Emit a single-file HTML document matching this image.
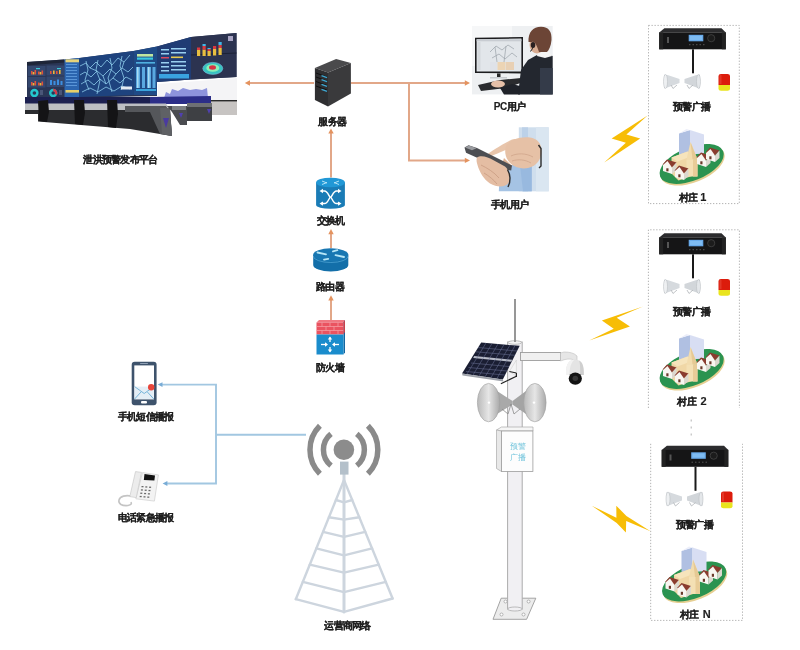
<!DOCTYPE html>
<html><head><meta charset="utf-8"><title>diagram</title>
<style>
html,body{margin:0;padding:0;background:#fff;width:800px;height:650px;overflow:hidden}
svg{display:block;filter:blur(0.4px)}
text{font-family:"Liberation Sans",sans-serif;font-weight:bold;fill:#1e1e1e;stroke:#1e1e1e;stroke-width:0.15px}
</style></head><body>
<svg width="800" height="650" viewBox="0 0 800 650">
<defs>
  <linearGradient id="bellg" x1="0" y1="0" x2="1" y2="0">
    <stop offset="0" stop-color="#b9b9b9"/><stop offset="0.5" stop-color="#e6e6e6"/><stop offset="1" stop-color="#a9a9a9"/>
  </linearGradient>
  <linearGradient id="hornL" x1="0" y1="0" x2="1" y2="0">
    <stop offset="0" stop-color="#e8ebee"/><stop offset="1" stop-color="#b8bec4"/>
  </linearGradient>
</defs>
<rect width="800" height="650" fill="#fff"/>

<!-- CONTROL ROOM -->
<g id="control">
  <!-- screen wall -->
  <polygon points="27,62 64,59.5 80,58 133.5,51 157,46.5 191,37 236.5,33 236.5,77 191,79.5 157,82 157,96 110,97 27,98" fill="#2a3656"/>
  <!-- left panels -->
  <g>
    <polygon points="27,62 64,59.5 64,62.5 27,65.5" fill="#1e2538"/>
    <rect x="28" y="66" width="17.5" height="10" fill="#34476e"/>
    <rect x="46.5" y="65.5" width="17.5" height="10" fill="#34476e"/>
    <rect x="28" y="77" width="17.5" height="10.5" fill="#34476e"/>
    <rect x="46.5" y="76.5" width="17.5" height="10.5" fill="#34486f"/>
    <g fill="#e0503c"><rect x="31" y="71" width="1.6" height="3.5"/><rect x="34.5" y="70" width="1.6" height="4.5"/><rect x="38" y="71.5" width="1.6" height="3"/><rect x="41.5" y="70.5" width="1.6" height="4"/>
      <rect x="31" y="82" width="1.6" height="3.5"/><rect x="34.5" y="81" width="1.6" height="4.5"/><rect x="38" y="82.5" width="1.6" height="3"/><rect x="41.5" y="81.5" width="1.6" height="4"/>
      <rect x="50" y="71" width="1.6" height="3"/><rect x="56" y="71" width="1.6" height="3"/></g>
    <g fill="#e8b838"><rect x="32.7" y="72" width="1.6" height="2.5"/><rect x="39.7" y="72" width="1.6" height="2.5"/><rect x="32.7" y="83" width="1.6" height="2.5"/><rect x="39.7" y="83" width="1.6" height="2.5"/><rect x="53" y="70.5" width="1.6" height="3.5"/><rect x="59" y="70" width="1.6" height="4"/></g>
    <g fill="#3c8ee0"><rect x="50" y="80" width="2" height="5"/><rect x="53.5" y="81" width="2" height="4"/><rect x="57" y="79.5" width="2" height="5.5"/><rect x="60.5" y="81" width="2" height="4"/></g>
    <g fill="#3cc8d8"><rect x="36" y="68" width="4" height="1.2"/><rect x="57" y="68" width="4" height="1.2"/></g>
    <circle cx="34.4" cy="93" r="3" fill="none" stroke="#24c8d0" stroke-width="2.4"/>
    <circle cx="53.2" cy="93" r="3" fill="none" stroke="#24c0c8" stroke-width="2.4"/>
    <path d="M53.2,90 A3,3 0 0 1 55.8,94.5" fill="none" stroke="#d63848" stroke-width="2.4"/>
    <rect x="40" y="90" width="3" height="5" fill="#4a5678"/><rect x="59" y="90" width="3" height="5" fill="#4a5678"/>
  </g>
  <!-- blue column -->
  <polygon points="64.5,59.5 79,58 79,97 64.5,97.5" fill="#2c66b0"/>
  <g fill="#5a96d8"><rect x="66" y="64" width="11" height="1"/><rect x="66" y="67" width="11" height="1"/><rect x="66" y="70" width="11" height="1"/><rect x="66" y="73" width="11" height="1"/><rect x="66" y="76" width="11" height="1"/><rect x="66" y="79" width="11" height="1"/><rect x="66" y="82" width="11" height="1"/><rect x="66" y="85" width="11" height="1"/></g>
  <rect x="65.5" y="59.3" width="14" height="3" fill="#e6d27a"/>
  <rect x="65.5" y="90" width="14" height="2.6" fill="#e6cf6a"/>
  <!-- map -->
  <polygon points="79,58 133.5,51 133.5,95 79,97" fill="#1e437e"/>
  <g stroke="#9adcf8" stroke-width="0.8" fill="none" opacity="0.9">
    <path d="M80,66 L86,63 L90,68 L96,62 L101,67 L107,60 L112,65 L118,58 L124,62 L130,55"/>
    <path d="M80,75 L85,72 L91,77 L97,71 L103,76 L110,69 L116,74 L122,68 L128,72 L133,67"/>
    <path d="M81,84 L88,80 L94,85 L100,79 L106,84 L113,78 L120,83 L126,77 L132,80"/>
    <path d="M82,92 L90,88 L98,92 L106,87 L114,91 L122,86 L130,89"/>
    <path d="M86,61 L88,70 L85,80 L89,90 M98,60 L96,70 L100,80 L97,94 M110,58 L112,68 L108,78 L112,92 M122,56 L120,66 L124,78 L121,90"/>
    <path d="M90,68 L97,71 M103,76 L106,84 M116,74 L113,78 M124,62 L122,68"/>
  </g>
  <rect x="121" y="86.5" width="11" height="3" fill="#e4ecf4"/>
  <!-- data table -->
  <polygon points="133.5,51 157,46.5 157,95 133.5,95" fill="#1f4a86"/>
  <rect x="137" y="54" width="16" height="2.6" fill="#bfe6a0"/>
  <rect x="137" y="57.5" width="16" height="2.2" fill="#3ac8e0"/>
  <rect x="136" y="62" width="19" height="1.6" fill="#4fb0e0"/>
  <g fill="#5aa8e0"><rect x="136" y="67" width="4" height="21"/><rect x="142" y="67" width="3" height="21"/><rect x="147" y="67" width="4" height="21"/><rect x="152.5" y="67" width="3" height="21"/></g>
  <g fill="#a8dcf4"><rect x="137" y="67" width="1.5" height="21"/><rect x="148" y="67" width="1.5" height="21"/></g>
  <rect x="136" y="89" width="20" height="2" fill="#3aa4dc"/>
  <!-- right screens -->
  <polygon points="157,46.5 191,37 191,79.5 157,82" fill="#203c74"/>
  <g fill="#9ad0f0"><rect x="161" y="49" width="8" height="1.5"/><rect x="171" y="48" width="15" height="1.5"/><rect x="161" y="53" width="8" height="1.5"/><rect x="171" y="52" width="15" height="1.5"/><rect x="161" y="62" width="8" height="1.5"/><rect x="171" y="61" width="15" height="1.5"/><rect x="161" y="66" width="8" height="1.5"/><rect x="171" y="65" width="15" height="1.5"/><rect x="161" y="70" width="8" height="1.5"/><rect x="171" y="69" width="15" height="1.5"/></g>
  <rect x="171" y="56.5" width="12" height="1.6" fill="#e6c850"/>
  <rect x="161" y="57" width="8" height="1.5" fill="#d84860"/>
  <rect x="159" y="74" width="30" height="4.5" fill="#3aa2e0"/>
  <polygon points="191,37 236.5,33 236.5,77 191,79.5" fill="#2c3350"/>
  <line x1="191" y1="55" x2="236.5" y2="53" stroke="#1c2236" stroke-width="1"/>
  <g fill="#e8be40"><rect x="197" y="50" width="3.2" height="6"/><rect x="202.5" y="49.5" width="3.2" height="6.5"/><rect x="207.5" y="51" width="3.2" height="5"/><rect x="213" y="49" width="3.2" height="6.5"/><rect x="218.5" y="48" width="3.2" height="7"/></g>
  <g fill="#d83a40"><rect x="197" y="47.5" width="3.2" height="2.5"/><rect x="202.5" y="46" width="3.2" height="3.5"/><rect x="207.5" y="49" width="3.2" height="2"/><rect x="213" y="46" width="3.2" height="3"/><rect x="218.5" y="45" width="3.2" height="3"/></g>
  <g fill="#40b8e8"><rect x="202.5" y="44" width="3.2" height="2"/><rect x="207.5" y="48" width="3.2" height="1"/><rect x="218.5" y="42" width="3.2" height="3"/></g>
  <rect x="228" y="36" width="5" height="5" fill="#c8c0e0" opacity="0.8"/>
  <ellipse cx="212.8" cy="68.4" rx="10" ry="6" fill="#38c4c0" stroke="#7ab8e0" stroke-width="0.6"/>
  <ellipse cx="212.8" cy="68" rx="6.5" ry="3.8" fill="#8ef0b8"/>
  <ellipse cx="212.5" cy="67.5" rx="3.5" ry="2.2" fill="#d83444"/>
  <!-- light panel with silhouette -->
  <polygon points="158,84 237,78 237,100 158,100" fill="#f4f4f6"/>
  <path d="M164,98 L166,92 L170,94 L172,89 L178,91 L183,88 L190,90 L196,89 L202,90 L207,88 L208,98 Z" fill="#8e94dc"/>
  <polygon points="211,100 237,100 237,115 211,115" fill="#c7c4c2"/>
  <rect x="211" y="100" width="26" height="1.4" fill="#2a2a2a"/>
  <!-- monitors row -->
  <rect x="25" y="97" width="186" height="7" fill="#1c2050"/>
  <polygon points="150,97 211,96 211,104 150,104" fill="#2c2e88"/>
  <!-- desk surfaces -->
  <polygon points="25,103.5 166,103.5 170,110 25,110" fill="#bdbfc3"/>
  <!-- console fronts -->
  <polygon points="25,110 170,110 172,136 130,129 38,121.5 38,114 25,114" fill="#2b2c2f"/>
  <g fill="#141416"><path d="M38,101 L48,100 L49,112 L47,122 L39,121 Z"/><path d="M74,100 L84,100 L85,113 L83,125 L75,124 Z"/><path d="M107,100 L117,100 L118,114 L116,128 L108,127 Z"/></g>
  <polygon points="125,106 166,106 170,112 172,136 160,134 150,112 125,112" fill="#55575b"/>
  <polygon points="160,108 170,108 172,136 162,134" fill="#5f6165"/>
  <polygon points="163,118 169,118 166,128" fill="#4a3aa0"/>
  <polygon points="167,106 187,106 187,125 180,125 172,112" fill="#4a4c50"/>
  <polygon points="172,106 186,106 186,110 172,110" fill="#7c7e82"/>
  <polygon points="187,103 212,103 212,121 187,121" fill="#3e4044"/>
  <polygon points="187,103 212,103 212,107 187,107" fill="#6e7074"/>
  <polygon points="179,113 183,113 181,118" fill="#5040b0"/>
  <polygon points="207,109 211,109 209,114" fill="#5040b0"/>
</g>

<!-- ORANGE CONNECTORS -->
<g stroke="#e2a788" stroke-width="2" fill="none">
  <line x1="314" y1="83" x2="249" y2="83"/>
  <line x1="351" y1="83" x2="466" y2="83"/>
  <polyline points="409,83 409,160.4 466,160.4"/>
  <line x1="331" y1="177.5" x2="331" y2="132"/>
  <line x1="331" y1="248" x2="331" y2="233"/>
  <line x1="331" y1="320" x2="331" y2="299"/>
</g>
<g fill="#e4935f">
  <polygon points="244.8,83 250,80.3 250,85.7"/>
  <polygon points="470,83 464.8,80.3 464.8,85.7"/>
  <polygon points="470,160.4 464.8,157.7 464.8,163.1"/>
  <polygon points="331,128.4 328.3,133.6 333.7,133.6"/>
  <polygon points="331,229 328.3,234.2 333.7,234.2"/>
  <polygon points="331,295.2 328.3,300.4 333.7,300.4"/>
</g>

<!-- SERVER -->
<g id="server">
  <polygon points="314.9,68.1 336.1,58.9 350.9,63.1 328,72.5" fill="#4a4a4c"/>
  <polygon points="314.9,68.1 328,72.5 328,106.4 314.9,100" fill="#2f2f31"/>
  <polygon points="328,72.5 350.9,63.1 350.9,93.5 328,106.4" fill="#3a3a3c"/>
  <g stroke="#111" stroke-width="1"><line x1="316" y1="73" x2="327" y2="77"/><line x1="316" y1="77" x2="327" y2="81"/><line x1="316" y1="81.5" x2="327" y2="85.5"/><line x1="316" y1="86" x2="327" y2="90"/></g>
  <g stroke="#3ea6d0" stroke-width="1.3"><line x1="321.5" y1="75.6" x2="327" y2="77.6"/><line x1="321.5" y1="79.6" x2="327" y2="81.6"/><line x1="321.5" y1="84.4" x2="327" y2="86.4"/><line x1="321.5" y1="89.4" x2="327" y2="91.4"/></g>
  <text x="332.25" y="124.5" font-size="10" letter-spacing="-0.8" text-anchor="middle">服务器</text>
</g>

<!-- SWITCH -->
<g id="switch">
  <path d="M316.1,182.5 L316.1,205 A14.4,3.8 0 0 0 344.9,205 L344.9,182.5 Z" fill="#1a7cb6"/>
  <ellipse cx="330.5" cy="182.5" rx="14.4" ry="4.8" fill="#2198d6"/>
  <g stroke="#bfe8f8" stroke-width="1" fill="none" opacity="0.9">
    <path d="M322,181 L327,183 M339,181 L334,183 M322,184.5 L327,182.5 M339,184.5 L334,182.5"/>
  </g>
  <g stroke="#fff" stroke-width="1.5" fill="none">
    <path d="M321,191 L324.5,191 C328,191 329,197.3 330.5,197.3 C332,197.3 333,203.6 336.5,203.6 L340,203.6"/>
    <path d="M340,191 L336.5,191 C333,191 332,197.3 330.5,197.3 C329,197.3 328,203.6 324.5,203.6 L321,203.6"/>
  </g>
  <g fill="#fff">
    <polygon points="319.5,191 323,188.8 323,193.2"/><polygon points="341.5,191 338,188.8 338,193.2"/>
    <polygon points="319.5,203.6 323,201.4 323,205.8"/><polygon points="341.5,203.6 338,201.4 338,205.8"/>
  </g>
  <text x="330.35" y="224.1" font-size="10" letter-spacing="-0.8" text-anchor="middle">交换机</text>
</g>

<!-- ROUTER -->
<g id="router">
  <path d="M313.2,254.8 L313.2,265 A17.55,6.4 0 0 0 348.3,265 L348.3,254.8 Z" fill="#136fa9"/>
  <ellipse cx="330.75" cy="254.8" rx="17.55" ry="6.5" fill="#1877b2"/>
  <path d="M313.2,256 A17.55,6.5 0 0 0 348.3,256" fill="none" stroke="#5fb3e0" stroke-width="0.6"/>
  <g stroke="#b6e6f6" stroke-width="1.8" fill="none" stroke-linecap="round">
    <path d="M317.5,252.5 L326,254.3"/><path d="M344,257 L335.5,255.2"/>
    <path d="M333,250.3 L337.5,251.5" transform="rotate(-30 335 251)"/>
    <path d="M328,260 L324,258.5" transform="rotate(-30 326 259)"/>
  </g>
  <text x="329.95" y="290.3" font-size="10" letter-spacing="-0.8" text-anchor="middle">路由器</text>
</g>

<!-- FIREWALL -->
<g id="firewall">
  <polygon points="316.5,322.5 319,320 345,320 343.5,322.5" fill="#f07882"/>
  <polygon points="343.5,322.5 345,320 345,352.5 343.5,354.5" fill="#1466a0"/>
  <rect x="316.5" y="322.5" width="27" height="12" fill="#ea5360"/>
  <g stroke="#f7a3aa" stroke-width="0.7">
    <line x1="316.5" y1="326.5" x2="343.5" y2="326.5"/><line x1="316.5" y1="330.5" x2="343.5" y2="330.5"/>
    <line x1="322" y1="322.5" x2="322" y2="326.5"/><line x1="330" y1="322.5" x2="330" y2="326.5"/><line x1="338" y1="322.5" x2="338" y2="326.5"/>
    <line x1="326" y1="326.5" x2="326" y2="330.5"/><line x1="334" y1="326.5" x2="334" y2="330.5"/>
    <line x1="322" y1="330.5" x2="322" y2="334.5"/><line x1="330" y1="330.5" x2="330" y2="334.5"/><line x1="338" y1="330.5" x2="338" y2="334.5"/>
  </g>
  <polygon points="343.5,322.5 345,320 345,332 343.5,334.5" fill="#c8404c"/>
  <rect x="316.5" y="334.5" width="27" height="20" fill="#1a8ccc"/>
  <g stroke="#fff" stroke-width="1.3" fill="none">
    <line x1="321" y1="344.5" x2="327" y2="344.5"/><line x1="333" y1="344.5" x2="339" y2="344.5"/>
    <line x1="330" y1="337.5" x2="330" y2="342"/><line x1="330" y1="347" x2="330" y2="351.5"/>
  </g>
  <g fill="#fff">
    <polygon points="328,344.5 325,342.3 325,346.7"/><polygon points="332,344.5 335,342.3 335,346.7"/>
    <polygon points="330,336.5 327.8,339.5 332.2,339.5"/><polygon points="330,352.5 327.8,349.5 332.2,349.5"/>
  </g>
  <text x="330.10" y="370.7" font-size="10" letter-spacing="-0.8" text-anchor="middle">防火墙</text>
</g>

<!-- PC USER -->
<g id="pcuser">
  <rect x="472" y="26" width="80.7" height="68.4" fill="#eef0f2"/>
  <rect x="472" y="26" width="40" height="40" fill="#f6f7f8"/>
  <!-- monitor -->
  <polygon points="475,37.8 523,37 523,73.4 475,73" fill="#1c1c1e"/>
  <polygon points="476.6,39.3 521.4,38.6 521.4,71.6 476.6,71.4" fill="#e2e6ea"/>
  <rect x="476.6" y="39.3" width="44.8" height="2" fill="#c8ccd2"/>
  <rect x="477.5" y="42" width="3" height="28" fill="#d4d8dc"/>
  <g stroke="#9aa0a8" stroke-width="0.7" fill="none">
    <path d="M490,52 L496,46 L502,50 L508,45 L514,49"/>
    <path d="M492,58 L499,54 L505,59 L512,53 L517,57"/>
    <path d="M495,47 L497,62 M506,46 L504,62"/>
  </g>
  <rect x="490" y="62" width="7" height="8" fill="#dfe2e8"/>
  <rect x="497.5" y="62" width="8" height="8" fill="#ecd4b4"/>
  <rect x="506" y="62" width="8" height="8" fill="#e8d0b4"/>
  <rect x="497" y="73.4" width="3.5" height="4" fill="#2a2a2a"/>
  <rect x="490" y="77" width="17" height="1.5" fill="#c8ccd0"/>
  <!-- keyboard -->
  <polygon points="478,85 500,80 521,78 522,82.5 506,88 481,91" fill="#2a2b2e"/>
  <ellipse cx="498" cy="84" rx="7" ry="3.5" fill="#e6c0a8"/>
  <!-- person -->
  <polygon points="518,94.4 521,70 528,60 537,55 546,54 552.7,56 552.7,94.4" fill="#23272f"/>
  <polygon points="500,88 512,84 520,86 520,94.4 504,94.4" fill="#1f2229"/>
  <polygon points="538,52 549,51.5 552,56 545,58 537,56" fill="#f4f4f4"/>
  <rect x="540" y="68" width="12.7" height="26.4" fill="#343b49"/>
  <ellipse cx="537" cy="45" rx="7.5" ry="8.5" fill="#d8ac92"/>
  <path d="M528.5,42 C528,32 533,26.7 541,26.7 C549,26.7 552,32 551.5,40 C551,46 549,50 547,52 L539,52 C537,46 535,41 532,42 Z" fill="#6c4536"/>
  <ellipse cx="533" cy="45" rx="2.3" ry="3" fill="#2a2020"/>
  <path d="M533,47 C532,50 531,51 530,51.5" stroke="#222" stroke-width="1" fill="none"/>
  <text x="509.95" y="110.4" font-size="10" letter-spacing="-0.4" text-anchor="middle">PC用户</text>
</g>

<!-- PHONE USER -->
<g id="phoneuser">
  <rect x="518.8" y="127.3" width="29.9" height="64" fill="#cfdeed"/>
  <rect x="522" y="127.3" width="6" height="64" fill="#bcd1e8"/>
  <rect x="536" y="127.3" width="12.7" height="64" fill="#dae6f1"/>
  <path d="M498.8,191.3 L500,172 C506,166 515,163 526,163 L531.7,165 L531.7,191.3 Z" fill="#a5c3e4"/>
  <path d="M520,165 L531.7,165 L531.7,191.3 L523,191.3 Z" fill="#98b9df"/>
  <!-- pointing hand -->
  <path d="M488.3,153.6 C494,149.5 503,144 512,139.5 C515,138.3 517.5,139 518,141.5 C518.3,143.5 516.5,144.8 514,146 C506,149.8 496,154 490.5,156.2 C488.8,156.8 487.6,155 488.3,153.6 Z" fill="#e8c5ab"/>
  <path d="M506,146 C510,139.5 520,136.5 530,137.5 C537,138.5 541.5,143 541.5,151 C541.5,159 537,166 528,168 C520,169.5 512,166.5 508,160.5 C505,156 504.5,150 506,146 Z" fill="#e6c1a6"/>
  <path d="M511,156 C517,153 526,153 533,157 M512,161 C518,159 525,159.5 531,163" stroke="#cfa58a" stroke-width="0.8" fill="none"/>
  <path d="M504,158 C502,163 503,166 506,168 L512,166 Z" fill="#dcb296"/>
  <path d="M538.5,145 L541,148.5 L541,166 L539,168" stroke="#2c2c2c" stroke-width="1.4" fill="none"/>
  <!-- phone -->
  <polygon points="464.5,147.5 468.5,145.3 477,148 512,165.6 511.2,170.5 501,168.5 466,152.8" fill="#4d4e52"/>
  <polygon points="465,147.4 469,145.6 476.5,148.3 472,150.2" fill="#9a9ca0"/>
  <!-- holding hand -->
  <path d="M477,157.5 C481,154.8 488,157 494,160.5 L505,166.5 C509.5,170 511,177 508.5,183 C505.5,187.5 497,187.5 490,183.5 C484,179.5 479.5,172 477.5,165 C476.5,162 476.2,159.5 477,157.5 Z" fill="#e4bda3"/>
  <path d="M481,165 C487,168 494,172 499,178 M484,173 C489,176 494,180 497,184" stroke="#c99c82" stroke-width="0.8" fill="none"/>
  <path d="M507.5,169.5 C510.5,175 511,181 508,187" stroke="#2c2c2c" stroke-width="1.4" fill="none"/>
  <text x="509.60" y="208.0" font-size="10" letter-spacing="-0.5" text-anchor="middle">手机用户</text>
</g>

<!-- SMS PHONE -->
<g id="smsphone">
  <rect x="131.7" y="361.7" width="24.9" height="43.6" rx="3" fill="#3e536c"/>
  <rect x="134.3" y="365.4" width="19.7" height="34" fill="#fff"/>
  <rect x="140" y="363" width="8" height="1" rx="0.5" fill="#8fa0b4"/>
  <rect x="141" y="401" width="6" height="2.4" rx="1" fill="#fff"/>
  <polygon points="134.6,386.6 153.8,386.6 153.8,399 134.6,399" fill="#e4eef6"/>
  <path d="M134.6,386.6 L144.2,393.5 L153.8,386.6 M134.6,399 L141,392 M153.8,399 L147.4,392" stroke="#6aaed6" stroke-width="0.9" fill="none"/>
  <circle cx="151.2" cy="387.2" r="3.2" fill="#e8453a"/>
  <text x="145.60" y="419.6" font-size="10" letter-spacing="-0.8" text-anchor="middle">手机短信播报</text>
</g>

<!-- TELEPHONE -->
<g id="telephone">
  <path d="M131,496 C126,495 120,496 119,500 C118,504 122,506 128,505.5 C131,505 132,504 131,502" stroke="#c4c4c4" stroke-width="1.6" fill="none"/>
  <polygon points="142.5,472.6 158.4,474.9 154.4,501.1 135.8,498.8" fill="#f3f3f3" stroke="#cfcfcf" stroke-width="0.7"/>
  <polygon points="135.5,471.6 141.5,472.4 136.2,497.6 129.8,496.6" fill="#ececec" stroke="#cacaca" stroke-width="0.7"/>
  <polygon points="144.5,473.9 155,475.6 154.4,480.6 143.8,479.9" fill="#121212"/>
  <g fill="#6a6a6a">
    <rect x="141.5" y="486" width="2" height="1.3"/><rect x="145.3" y="486.3" width="2" height="1.3"/><rect x="149.1" y="486.6" width="2" height="1.3"/>
    <rect x="140.9" y="489.3" width="2" height="1.3"/><rect x="144.7" y="489.6" width="2" height="1.3"/><rect x="148.5" y="489.9" width="2" height="1.3"/>
    <rect x="140.3" y="492.6" width="2" height="1.3"/><rect x="144.1" y="492.9" width="2" height="1.3"/><rect x="147.9" y="493.2" width="2" height="1.3"/>
    <rect x="139.7" y="495.9" width="2" height="1.3"/><rect x="143.5" y="496.2" width="2" height="1.3"/><rect x="147.3" y="496.5" width="2" height="1.3"/>
  </g>
  <text x="145.72" y="521.2" font-size="10" letter-spacing="-0.75" text-anchor="middle">电话紧急播报</text>
</g>

<!-- TOWER -->
<g id="tower">
  <g stroke="#cdd5de" stroke-width="2.4" fill="none" stroke-linejoin="round" stroke-linecap="round">
    <polyline points="295.8,599.2 344,480 392.6,598.5"/>
    <line x1="344" y1="474" x2="344" y2="612" stroke-width="3"/>
    <polyline points="295.8,599.2 344,611.8 392.6,598.5"/>
    <polyline points="335.9,500 344,502.3 352.2,500"/>
    <polyline points="328.9,517.3 344,519.6 359.3,517.3"/>
    <polyline points="323.1,531.8 344,536.9 365.2,531.8"/>
    <polyline points="316.3,548.4 344,555.3 372.1,548.4"/>
    <polyline points="309.8,564.6 344,572.6 378.7,564.6"/>
    <polyline points="302.8,581.9 344,592.2 385.8,581.9"/>
  </g>
  <rect x="340" y="461.6" width="8.5" height="13" fill="#b4c0ca"/>
  <circle cx="343.9" cy="449.8" r="10.3" fill="#8c8c8c"/>
  <g stroke="#8a8a8a" stroke-width="5.5" fill="none">
    <path d="M331,433.9 A20.5,20.5 0 0 0 331,465.7"/>
    <path d="M356.8,433.9 A20.5,20.5 0 0 1 356.8,465.7"/>
    <path d="M319.9,425.8 A34,34 0 0 0 319.9,473.8"/>
    <path d="M367.9,425.8 A34,34 0 0 1 367.9,473.8"/>
  </g>
  <text x="347.50" y="629.4" font-size="10" letter-spacing="-0.8" text-anchor="middle">运营商网络</text>
</g>

<!-- POLE -->
<g id="pole">
  <!-- base plate -->
  <polygon points="501.2,598.2 535.8,598.2 526.6,619.3 493,619.3" fill="#ececec" stroke="#9a9a9a" stroke-width="0.9"/>
  <g fill="#fff" stroke="#999" stroke-width="0.7"><circle cx="505.5" cy="601.5" r="1.5"/><circle cx="528.6" cy="601.5" r="1.5"/><circle cx="501.5" cy="614.5" r="1.5"/><circle cx="523.5" cy="614.5" r="1.5"/></g>
  <!-- pole body -->
  <rect x="507.6" y="342" width="14.6" height="267" fill="#f1f0f3" stroke="#acacac" stroke-width="1"/>
  <ellipse cx="514.9" cy="609" rx="7.3" ry="2" fill="#f1f0f3" stroke="#acacac" stroke-width="0.8"/>
  <ellipse cx="514.8" cy="342.5" rx="6.8" ry="1.8" fill="#f4f4f4" stroke="#b0b0b0" stroke-width="0.8"/>
  <!-- antenna -->
  <line x1="515" y1="299" x2="515" y2="342" stroke="#8c8c8c" stroke-width="1.8"/>
  <!-- arm & camera -->
  <rect x="520.5" y="352.5" width="40" height="8" fill="#f0f0f0" stroke="#9c9c9c" stroke-width="0.9"/>
  <path d="M560.5,353 L564,352 C570,352 574,353 577,356 L577,361 C573,359 569,358.5 565,359.5 L560.5,361 Z" fill="#e6e6e6" stroke="#bdbdbd" stroke-width="0.6"/>
  <path d="M566,375 C565.5,364 569,359.5 575,359.5 C581,359.5 584,364 583.8,375 Z" fill="#e4e4e4"/>
  <path d="M566,375 C565.5,364 569,359.5 575,359.5 C572,361 569.5,366 569.5,375 Z" fill="#f2f2f2"/>
  <path d="M579,360.5 C582.5,362 584,366 583.8,375 L580,375 C580.5,368 580,363 579,360.5 Z" fill="#cfcfcf"/>
  <ellipse cx="575.3" cy="378.6" rx="6.6" ry="6.2" fill="#131313"/>
  <ellipse cx="575.3" cy="378.3" rx="2.8" ry="2.6" fill="#353535"/>
  <!-- solar panel -->
  <polygon points="509.4,371.5 516.4,360 516.4,376 " fill="#f4f4f6" stroke="#c8c8c8" stroke-width="0.5"/>
  <polygon points="481.2,342.5 519.7,345.8 502.8,379.5 462,373.4" fill="#1a1e33"/>
  <polygon points="474.2,356.1 512.2,359.8 511.2,361.8 473.2,358.1" fill="#b8bcc8"/>
  <g stroke="#6a7094" stroke-width="0.6" opacity="0.9">
    <line x1="478" y1="347.5" x2="517" y2="351"/><line x1="476" y1="351.8" x2="515" y2="355.3"/>
    <line x1="471" y1="363" x2="509" y2="366.5"/><line x1="468.5" y1="367.5" x2="507" y2="371"/><line x1="466" y1="371.5" x2="504.5" y2="375"/>
    <line x1="486" y1="343" x2="467" y2="374"/><line x1="492" y1="343.5" x2="473" y2="375"/><line x1="498" y1="344" x2="479" y2="376"/><line x1="504" y1="344.5" x2="485" y2="377"/><line x1="510" y1="345" x2="491" y2="377.5"/><line x1="515" y1="345.5" x2="497" y2="378.5"/>
  </g>
  <polygon points="462,373.4 502.8,379.5 503.5,381.5 462.5,375.5" fill="#9ea2aa"/>
  <g stroke="#222" stroke-width="1.2" fill="none"><line x1="500.9" y1="383.7" x2="516.4" y2="376.2"/><line x1="509.4" y1="371.5" x2="516.4" y2="373"/><line x1="516.4" y1="373" x2="516.4" y2="377"/></g>
  <!-- horns -->
  <polygon points="497,391 512.5,401 512.5,404.5 497,414" fill="#a9a9a9"/>
  <polygon points="526,391 512.5,401 512.5,404.5 526,414" fill="#a4a4a4"/>
  <ellipse cx="488.6" cy="402.6" rx="11.2" ry="19.2" fill="url(#bellg)" stroke="#a0a0a0" stroke-width="0.6"/>
  <ellipse cx="534.9" cy="402.6" rx="11.2" ry="19.2" fill="url(#bellg)" stroke="#a0a0a0" stroke-width="0.6"/>
  <circle cx="489" cy="402.6" r="1.2" fill="#fff"/><circle cx="534" cy="402.6" r="1.2" fill="#fff"/>
  <g stroke="#8a8a8a" stroke-width="0.8" fill="none"><polyline points="502,409 508,414 511,404 514,414 520,409"/></g>
  <!-- control box -->
  <polygon points="496.5,430 501.5,427 533,427 533,431 501.5,431" fill="#f6f6f6" stroke="#aaa" stroke-width="0.7"/>
  <polygon points="496.5,430 501.5,431 501.5,471.5 496.5,468.5" fill="#e8e8e8" stroke="#aaa" stroke-width="0.7"/>
  <rect x="501.5" y="431" width="31.4" height="40.5" fill="#fdfdfd" stroke="#9c9c9c" stroke-width="0.8"/>
  <text x="517.5" y="448.8" font-size="8" text-anchor="middle" style="font-family:'Liberation Serif',serif;font-weight:normal;fill:#72c4dc;stroke:none">预警</text>
  <text x="517.5" y="459.9" font-size="8" text-anchor="middle" style="font-family:'Liberation Serif',serif;font-weight:normal;fill:#72c4dc;stroke:none">广播</text>
</g>

<!-- RIGHT COLUMN -->
<defs>
  <g id="house">
    <polygon points="-0.5,4.5 4,-0.5 13.5,2.5 9,7.5" fill="#8a3c2f"/>
    <polygon points="0,5 4.5,1 9,7.5 9,14 0,11" fill="#f8f6f1"/>
    <polygon points="9,7.5 13.5,2.5 13.5,10 9,14" fill="#dcd8cf"/>
    <rect x="3.3" y="8.3" width="2.2" height="3" fill="#6a3a2a"/>
  </g>
  <g id="village">
    <ellipse cx="0.3" cy="2.2" rx="34" ry="16.8" transform="rotate(-22)" fill="#e6cf92"/>
    <ellipse cx="0" cy="0.5" rx="34" ry="16.6" transform="rotate(-22)" fill="#2b9350"/>
    <!-- tall block -->
    <polygon points="-12.5,-30 -1.5,-33.5 -1.5,-9 -12.5,-8" fill="#b0c0e2"/>
    <polygon points="-1.5,-33.5 12.5,-29 12.5,-10 -1.5,-9" fill="#d8def3"/>
    <polygon points="-12.5,-30 -5,-34.5 12.5,-29 -1.5,-33.5" fill="#eceefa"/>
    <!-- church nave -->
    <polygon points="-20,-6 -4,-12 2,-8 2,12 -13,17 -20,10" fill="#f0d7a6"/>
    <polygon points="-20,-6 -4,-12 2,-8 -14,-2" fill="#f6e4bc"/>
    <!-- tower + spire -->
    <polygon points="-1,-21.5 -5,-4 6,-4" fill="#f2dcae"/>
    <polygon points="-1,-21.5 1,-4 6,-4" fill="#e6c994"/>
    <rect x="-5" y="-4" width="11" height="17" fill="#f4e0b4"/>
    <rect x="1.5" y="-4" width="4.5" height="17" fill="#e8cc98"/>
    <use href="#house" x="-28.5" y="-3.5"/>
    <use href="#house" x="-16.5" y="2.5"/>
    <use href="#house" x="5.5" y="-10.5"/>
    <use href="#house" x="14.5" y="-15.5"/>
  </g>
  <g id="boxc">
    <!-- amplifier -->
    <polygon points="664.4,28.2 721.5,28.2 725.8,32.4 659.2,32.4" fill="#2c2c2e"/>
    <rect x="659.2" y="32.4" width="66.6" height="16.9" fill="#151516"/>
    <rect x="659.2" y="32.4" width="4" height="16.9" fill="#222"/>
    <rect x="721.8" y="32.4" width="4" height="16.9" fill="#222"/>
    <rect x="688.7" y="34.8" width="14.6" height="6.5" fill="#68aaea"/>
    <rect x="690" y="36" width="12" height="4" fill="#7fbcf2"/>
    <circle cx="711.2" cy="38.2" r="3.6" fill="#1c1c1c" stroke="#444" stroke-width="0.8"/>
    <rect x="667" y="37" width="2" height="6" fill="#555"/>
    <g fill="#555"><rect x="689" y="44.2" width="1.5" height="1"/><rect x="692.5" y="44.2" width="1.5" height="1"/><rect x="696" y="44.2" width="1.5" height="1"/><rect x="699.5" y="44.2" width="1.5" height="1"/><rect x="703" y="44.2" width="1.5" height="1"/></g>
    <!-- cable -->
    <rect x="692" y="49.3" width="2" height="24" fill="#1a1a1a"/>
    <!-- horns -->
    <g>
      <polygon points="664,74.5 667.5,75 679.5,79 679.5,83 667.5,87.5 664,88.5" fill="#d6dade"/>
      <ellipse cx="665.5" cy="81.5" rx="2" ry="7" fill="#eef0f2" stroke="#b4b8bc" stroke-width="0.5"/>
      <polyline points="671,85 673,88.5 677,85" fill="none" stroke="#b0b4b8" stroke-width="0.8"/>
      <polygon points="700,74.5 696.5,75 684.5,79 684.5,83 696.5,87.5 700,88.5" fill="#d2d6da"/>
      <ellipse cx="698.5" cy="81.5" rx="2" ry="7" fill="#e4e7ea" stroke="#b4b8bc" stroke-width="0.5"/>
      <polyline points="687,85 689,88.5 693,85" fill="none" stroke="#b0b4b8" stroke-width="0.8"/>
    </g>
    <!-- alarm light -->
    <path d="M718.5,76 Q718.5,74 721,74 L727.5,74 Q730,74 730,76 L730,85 L718.5,85 Z" fill="#dc1c0c"/>
    <path d="M718.5,85 L730,85 L730,89 Q730,90.8 727.5,90.8 L721,90.8 Q718.5,90.8 718.5,89 Z" fill="#e9e41e"/>
    <rect x="719.5" y="75" width="2" height="9" fill="#e84a3a" opacity="0.6"/>
    <text x="691.90" y="110.0" font-size="10" letter-spacing="-0.6" text-anchor="middle">预警广播</text>
    <use href="#village" x="691.5" y="163.5"/>
  </g>
</defs>
<g stroke="#b2b2b2" stroke-width="1" fill="none" stroke-dasharray="1.3 1.7">
  <rect x="648.5" y="25.4" width="90.8" height="178.2"/>
  <polyline points="648.4,408 648.4,229.8 739.4,229.8 739.4,408"/>
  <polyline points="650.7,443.8 650.7,620.4 742.5,620.4 742.5,443.8"/>
  <line x1="691.2" y1="419.5" x2="691.2" y2="438" stroke-dasharray="2 5"/>
</g>
<use href="#boxc"/>
<use href="#boxc" transform="translate(0,205)"/>
<use href="#boxc" transform="translate(2.5,417.5)"/>
<text x="692.6" y="200.6" font-size="10" letter-spacing="-0.5" text-anchor="middle">村庄 <tspan font-size="11" letter-spacing="0">1</tspan></text>
<text x="691.8" y="405" font-size="10" letter-spacing="-0.5" text-anchor="middle">村庄 <tspan dx="2" font-size="11" letter-spacing="0">2</tspan></text>
<text x="695.2" y="618.3" font-size="10" letter-spacing="-0.5" text-anchor="middle">村庄 <tspan dx="2" font-size="11" letter-spacing="0">N</tspan></text>

<!-- LIGHTNING -->
<g fill="#f7bd06">
  <polygon points="647.6,115.5 626.4,134.5 640.2,138.6 604.2,162.6 625.9,142.8 611.6,138.6"/>
  <polygon points="643,306.4 616.7,317.7 629.9,326.5 589.2,340.5 613.7,328.7 601.9,320.4"/>
  <polygon points="591.8,505.7 616.4,517.8 616.3,505.7 626.4,516 650.5,531.2 626.2,521 625.9,532.4 616.7,523"/>
</g>

<!-- LABEL -->
<text x="120.47" y="163.2" font-size="10" letter-spacing="-0.75" text-anchor="middle">泄洪预警发布平台</text>

<!-- BLUE CONNECTORS -->
<g stroke="#a2c7e1" stroke-width="1.9" fill="none">
  <line x1="306" y1="434.7" x2="216" y2="434.7"/>
  <polyline points="161,384.6 216,384.6 216,483.5 166,483.5"/>
</g>
<g fill="#78acd6">
  <polygon points="157.7,384.6 162.5,382.2 162.5,387"/>
  <polygon points="162.6,483.5 167.4,481.1 167.4,485.9"/>
</g>

</svg>
</body></html>
